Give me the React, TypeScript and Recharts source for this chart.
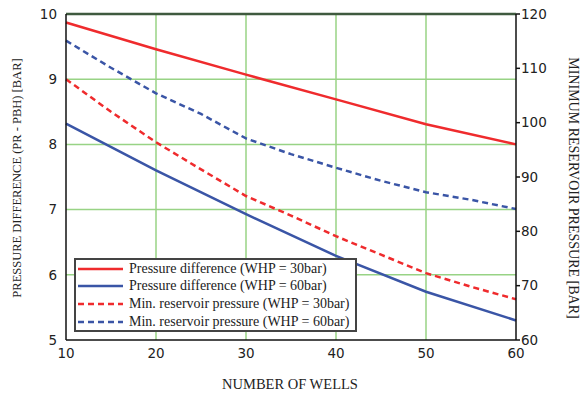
import { LineChart, Line, XAxis, YAxis, CartesianGrid, ReferenceLine } from 'recharts';

const wells = [10, 15, 20, 25, 30, 35, 40, 45, 50, 55, 60];
// pressure difference, left axis (only read at every 10 wells)
const diffWhp30 = [9.87, null, 9.46, null, 9.07, null, 8.69, null, 8.31, null, 8.0];
const diffWhp60 = [8.32, null, 7.6, null, 6.93, null, 6.29, null, 5.74, null, 5.3];
// minimum reservoir pressure, right axis
const minResWhp30 = [108, 102, 96.4, 91.4, 86.5, 82.9, 79.1, 75.7, 72.3, 69.8, 67.5];
const minResWhp60 = [115.1, 110.1, 105.4, 101.6, 97.1, 94.2, 91.7, 89.3, 87.2, 85.8, 84.1];

const xTicks = [10, 20, 30, 40, 50, 60];
const leftTicks = [5, 6, 7, 8, 9, 10];
const rightTicks = [60, 70, 80, 90, 100, 110, 120];

const data = wells.map((w, i) => ({
  wells: w,
  diff30: diffWhp30[i],
  diff60: diffWhp60[i],
  res30: minResWhp30[i],
  res60: minResWhp60[i],
}));

const RED = '#ef2b2d';
const BLUE = '#3a55a6';
const GRID = '#98d385';
const tickFont = { fontFamily: 'DejaVu Sans', fontSize: 13.5, fill: '#222' };
const serif = 'Liberation Serif';

const legendItems = [
  { label: 'Pressure difference (WHP = 30bar)', color: RED, dash: undefined },
  { label: 'Pressure difference (WHP = 60bar)', color: BLUE, dash: undefined },
  { label: 'Min. reservoir pressure (WHP = 30bar)', color: RED, dash: '6 4' },
  { label: 'Min. reservoir pressure (WHP = 60bar)', color: BLUE, dash: '6 4' },
];

const ChartLegend = () => (
  <div
    style={{
      position: 'absolute',
      left: 74,
      top: 258,
      border: '2px solid #444',
      background: '#fff',
      padding: '0px 6px 0px 1px',
      fontFamily: serif,
      fontSize: 14,
      color: '#222',
    }}
  >
    {legendItems.map((it) => (
      <div key={it.label} style={{ display: 'flex', alignItems: 'center', height: 17.6 }}>
        <svg width={48} height={6} style={{ marginRight: 4 }}>
          <line x1={1} y1={3} x2={46} y2={3} stroke={it.color} strokeWidth={2.5} strokeDasharray={it.dash} />
        </svg>
        <span style={{ whiteSpace: 'nowrap' }}>{it.label}</span>
      </div>
    ))}
  </div>
);

export default function App() {
  return (
    <div style={{ position: 'absolute', left: 0, top: 0, width: 583, height: 393, background: '#fff' }}>
      <LineChart width={583} height={393} data={data} margin={{ top: 14, right: 0, bottom: 0, left: 0 }}>
        <CartesianGrid
          stroke={GRID}
          strokeWidth={1.5}
          yAxisId="left"
          horizontalValues={[6, 7, 8, 9]}
          verticalValues={[20, 30, 40, 50]}
        />
        <XAxis
          dataKey="wells"
          type="number"
          domain={[10, 60]}
          ticks={xTicks}
          height={53}
          stroke="#111"
          strokeWidth={1.5}
          tickLine={false}
          tick={tickFont}
          tickMargin={2}
          label={{
            content: () => (
              <text x={290} y={389} textAnchor="middle" fontFamily={serif} fontSize={14.5} fill="#222">
                NUMBER OF WELLS
              </text>
            ),
          }}
        />
        <YAxis
          yAxisId="left"
          domain={[5, 10]}
          ticks={leftTicks}
          width={66}
          stroke="#111"
          strokeWidth={1.5}
          tickLine={false}
          tick={tickFont}
          tickMargin={3}
          label={{
            content: () => (
              <text
                x={21}
                y={178}
                textAnchor="middle"
                transform="rotate(-90 21 178)"
                fontFamily={serif}
                fontSize={12.5}
                fill="#222"
              >
                PRESSURE DIFFERENCE (PR - PBH) [BAR]
              </text>
            ),
          }}
        />
        <YAxis
          yAxisId="right"
          orientation="right"
          domain={[60, 120]}
          ticks={rightTicks}
          width={67}
          stroke="#111"
          strokeWidth={1.5}
          tickSize={4}
          tick={tickFont}
          tickMargin={1}
          label={{
            content: () => (
              <text
                x={569}
                y={188}
                textAnchor="middle"
                transform="rotate(90 569 188)"
                fontFamily={serif}
                fontSize={14}
                fill="#222"
              >
                MINIMUM RESERVOIR PRESSURE [BAR]
              </text>
            ),
          }}
        />
        <ReferenceLine yAxisId="left" y={10} stroke="#3f5a3f" strokeWidth={2.5} />
        <Line yAxisId="left" dataKey="diff30" stroke={RED} strokeWidth={2.5} dot={false} connectNulls isAnimationActive={false} />
        <Line yAxisId="left" dataKey="diff60" stroke={BLUE} strokeWidth={2.5} dot={false} connectNulls isAnimationActive={false} />
        <Line yAxisId="right" dataKey="res30" stroke={RED} strokeWidth={2.5} strokeDasharray="6 4" dot={false} isAnimationActive={false} />
        <Line yAxisId="right" dataKey="res60" stroke={BLUE} strokeWidth={2.5} strokeDasharray="6 4" dot={false} isAnimationActive={false} />
      </LineChart>
      <ChartLegend />
    </div>
  );
}
